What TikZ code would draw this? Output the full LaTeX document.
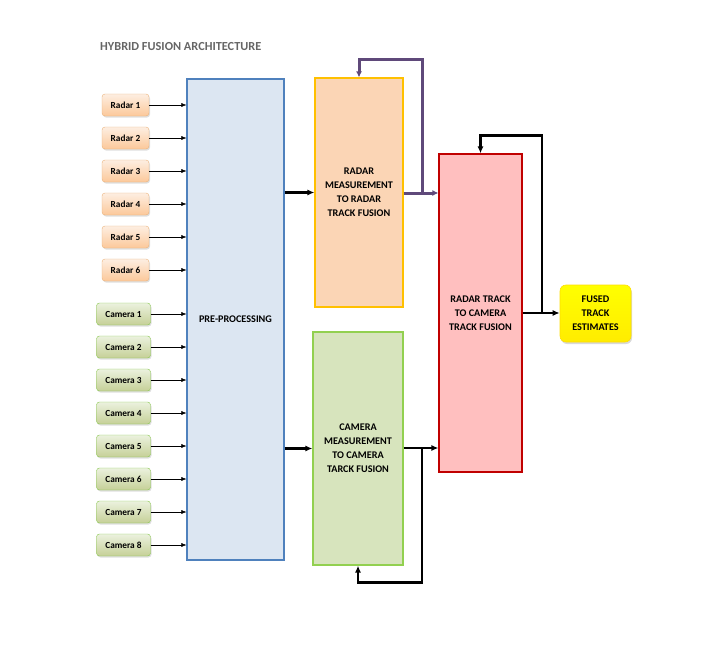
\documentclass[tikz,border=0pt]{standalone}
\usepackage{fontspec}
\setmainfont{Carlito}
\usetikzlibrary{arrows.meta, shadows}
\definecolor{radarfill}{HTML}{FBD5B5}
\definecolor{radarline}{HTML}{FFC000}
\definecolor{camfill}{HTML}{D7E4BD}
\definecolor{camline}{HTML}{92D050}
\definecolor{prefill}{HTML}{DCE6F2}
\definecolor{preline}{HTML}{4F81BD}
\definecolor{rcfill}{HTML}{FFBFBF}
\definecolor{rcline}{HTML}{C00000}
\definecolor{purpleloop}{HTML}{5F497A}
\begin{document}
\begin{tikzpicture}[
  x=1pt, y=-1pt,
  sensor/.style={draw, rounded corners=3pt, minimum height=22pt, inner sep=0pt,
    font=\fontsize{9.3}{10}\selectfont\bfseries, drop shadow={opacity=0.25, shadow xshift=1pt, shadow yshift=-1.5pt}},
  radar/.style={sensor, draw=orange!45!brown!60, top color=radarfill!40, bottom color=radarfill!85!orange, minimum width=47pt},
  camera/.style={sensor, draw=green!35!olive!70, top color=camfill!50, bottom color=camfill!80!olive, minimum width=54pt},
  block/.style={draw, line width=1.2pt, inner sep=0pt, align=center, font=\fontsize{10.2}{14}\selectfont\bfseries},
  feed/.style={-{Latex[length=5pt, width=4pt]}, thin},
  flow/.style={-{Latex[length=7pt, width=6pt]}, line width=2.3pt},
  loopflow/.style={-{Latex[length=6pt, width=6pt]}, draw=purpleloop, line width=3pt},
]
  \useasboundingbox (0,0) rectangle (717,661);

  \node[font=\fontsize{12.3}{14}\selectfont\bfseries, text=black!60, anchor=west, inner sep=0pt] (title) at (100,47) {HYBRID FUSION ARCHITECTURE};

  \node[block, draw=preline, fill=prefill, minimum width=97pt, minimum height=481pt] (pre) at (235.5,319.5) {PRE-PROCESSING};

  % sensors
  \foreach \i in {1,...,6}
    \node[radar] (r\i) at (125.5, {105+33*(\i-1)}) {Radar \i};
  \foreach \i in {1,...,8}
    \node[camera] (c\i) at (123.5, {314+33*(\i-1)}) {Camera \i};
  \foreach \i in {1,...,6}
    \draw[feed] (r\i.east) -- (r\i.east -| pre.west);
  \foreach \i in {1,...,8}
    \draw[feed] (c\i.east) -- (c\i.east -| pre.west);

  % fusion blocks
  \node[block, draw=radarline, fill=radarfill, minimum width=88pt, minimum height=229pt] (rfus) at (359,192.5)
    {RADAR\\MEASUREMENT\\TO RADAR\\TRACK FUSION};
  \node[block, draw=camline, fill=camfill, minimum width=90pt, minimum height=233pt] (cfus) at (358,448.5)
    {CAMERA\\MEASUREMENT\\TO CAMERA\\TARCK FUSION};
  \node[block, draw=rcline, fill=rcfill, minimum width=83pt, minimum height=318pt] (rcf) at (480.5,313)
    {RADAR TRACK\\TO CAMERA\\TRACK FUSION};
  \node[block, draw=yellow!80!orange, line width=0.6pt, rounded corners=6pt, top color=yellow, bottom color=yellow!85!orange,
    minimum width=71pt, minimum height=57pt, drop shadow={opacity=0.3, shadow xshift=1pt, shadow yshift=-2pt}] (fused) at (595.5,313.5)
    {FUSED\\TRACK\\ESTIMATES};

  \draw[flow] (pre.east |- rfus.west) -- (rfus.west);
  \draw[flow] (pre.east |- cfus.west) -- (cfus.west);

  \coordinate (rtap) at (422,193);
  \coordinate (ctap) at (422,448);
  \coordinate (otap) at (542,313);

  \draw[loopflow] (rfus.east |- rtap) -- (rcf.west |- rtap);
  \draw[loopflow] (rtap) |- ([yshift=18pt]rfus.north) -- (rfus.north);
  \draw[flow] (cfus.east |- ctap) -- (rcf.west |- ctap);
  \draw[flow] (ctap) |- ([yshift=-17pt]cfus.south) -- (cfus.south);
  \draw[flow] (rcf.east |- otap) -- (fused.west |- otap);
  \draw[flow] (otap) |- ([yshift=18pt]rcf.north) -- (rcf.north);
\end{tikzpicture}
\end{document}
